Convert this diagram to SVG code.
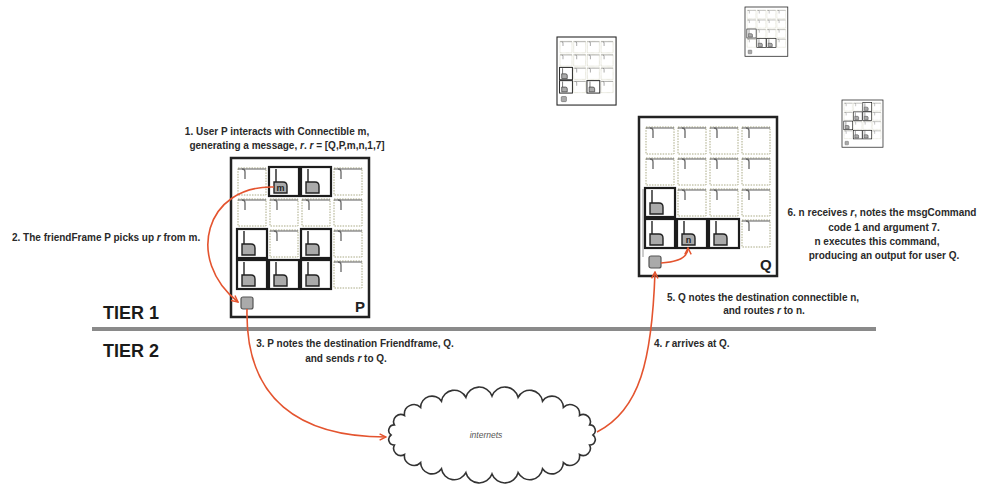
<svg xmlns="http://www.w3.org/2000/svg" width="982" height="489" viewBox="0 0 982 489">
<style>
.t{font-family:"Liberation Sans",Arial,sans-serif;font-weight:bold;font-size:10px;fill:#2a2a2a}
.tier{font-family:"Liberation Sans",Arial,sans-serif;font-weight:bold;font-size:18px;fill:#1a1a1a}
.lbl{font-family:"Liberation Sans",Arial,sans-serif;font-weight:bold;font-size:15px;fill:#222}
.i{font-style:italic}
.con{fill:none;stroke:#e4542f;stroke-width:1.6}
</style>
<defs>
<marker id="ah" viewBox="0 0 10 10" refX="9" refY="5" markerWidth="8" markerHeight="8" orient="auto" markerUnits="userSpaceOnUse">
<path d="M1 1 L9 5 L1 9" fill="none" stroke="#e4542f" stroke-width="1.8"/>
</marker>
<g id="cellOff">
<rect width="28" height="27" fill="#fff" stroke="#a9a984" stroke-width="1" stroke-dasharray="1.5 1.2"/>
<path d="M0 1 H28" stroke="#777" stroke-width="1.2" fill="none"/>
<path d="M4 1 Q7 1 7 4 V11" stroke="#666" stroke-width="1.3" fill="none"/>
</g>
<g id="cellOn">
<rect x="-1" y="-1" width="30" height="29" fill="#fff" stroke="#1c1c1c" stroke-width="2.2"/>
<path d="M6 1 V14" stroke="#222" stroke-width="1.4" fill="none"/>
<path d="M4 25 V14 H13 Q17 14 17 18 V25 Z" fill="#aaa" stroke="#222" stroke-width="1.4"/>
</g>
<rect id="port" width="12" height="12" rx="2" fill="#aaa" stroke="#555" stroke-width="1.2"/>
<g id="frameBase">
<rect x="0" y="0" width="138" height="159" fill="#fff" stroke="#222" stroke-width="2.5"/>
<use href="#cellOff" x="7" y="10"/><use href="#cellOff" x="39" y="10"/><use href="#cellOff" x="71" y="10"/><use href="#cellOff" x="103" y="10"/>
<use href="#cellOff" x="7" y="41"/><use href="#cellOff" x="39" y="41"/><use href="#cellOff" x="71" y="41"/><use href="#cellOff" x="103" y="41"/>
<use href="#cellOff" x="7" y="72"/><use href="#cellOff" x="39" y="72"/><use href="#cellOff" x="71" y="72"/><use href="#cellOff" x="103" y="72"/>
<use href="#cellOff" x="7" y="103"/><use href="#cellOff" x="39" y="103"/><use href="#cellOff" x="71" y="103"/><use href="#cellOff" x="103" y="103"/>
<use href="#port" x="10" y="139"/>
</g>
</defs>
<rect width="982" height="489" fill="#fff"/>

<g id="tiers">
<line x1="92" y1="329" x2="876" y2="329" stroke="#8a8a8a" stroke-width="4"/>
<text class="tier" x="103" y="319">TIER 1</text>
<text class="tier" x="103" y="357">TIER 2</text>
</g>

<g id="frame-P" transform="translate(231,158)">
<use href="#frameBase"/>
<use href="#cellOn" x="39" y="10"/><use href="#cellOn" x="71" y="10"/>
<use href="#cellOn" x="7" y="72"/><use href="#cellOn" x="71" y="72"/>
<use href="#cellOn" x="7" y="103"/><use href="#cellOn" x="39" y="103"/><use href="#cellOn" x="71" y="103"/>
<text x="49.5" y="33" font-family="Liberation Sans,Arial,sans-serif" font-size="9" font-weight="bold" fill="#222" text-anchor="middle">m</text>
<text class="lbl" x="124" y="154">P</text>
</g>

<g id="frame-Q" transform="translate(639,117)">
<use href="#frameBase"/>
<line x1="4" y1="72" x2="4" y2="140" stroke="#999" stroke-width="1"/>
<use href="#cellOn" x="7" y="72"/>
<use href="#cellOn" x="7" y="103"/><use href="#cellOn" x="39" y="103"/><use href="#cellOn" x="71" y="103"/>
<text x="49.5" y="126" font-family="Liberation Sans,Arial,sans-serif" font-size="9" font-weight="bold" fill="#222" text-anchor="middle">n</text>
<text class="lbl" x="121" y="153">Q</text>
</g>

<g id="frame-A" transform="translate(557,37) scale(0.428)">
<use href="#frameBase"/>
<use href="#cellOn" x="7" y="72"/><use href="#cellOn" x="7" y="103"/><use href="#cellOn" x="71" y="103"/>
</g>
<g id="frame-B" transform="translate(745,7) scale(0.31)">
<use href="#frameBase"/>
<use href="#cellOn" x="7" y="72"/><use href="#cellOn" x="39" y="103"/><use href="#cellOn" x="71" y="103"/>
</g>
<g id="frame-C" transform="translate(842,100) scale(0.297)">
<use href="#frameBase"/>
<use href="#cellOn" x="71" y="10"/>
<use href="#cellOn" x="39" y="41"/><use href="#cellOn" x="71" y="41"/>
<use href="#cellOn" x="7" y="72"/>
<use href="#cellOn" x="39" y="103"/><use href="#cellOn" x="71" y="103"/>
</g>

<g id="cloud">
<path d="M593 435 A5.6 5.6 0 0 1 589.6 445.1 A7.2 7.2 0 0 1 579.5 454.5 A9.5 9.5 0 0 1 563.4 462.6 A11.4 11.4 0 0 1 542.5 468.8 A13 13 0 0 1 518.1 472.7 A13.7 13.7 0 0 1 492 474 A13.7 13.7 0 0 1 465.9 472.7 A13 13 0 0 1 441.5 468.8 A11.4 11.4 0 0 1 420.6 462.6 A9.5 9.5 0 0 1 404.5 454.5 A7.2 7.2 0 0 1 394.4 445.1 A5.6 5.6 0 0 1 391 435 A5.6 5.6 0 0 1 394.4 424.9 A7.2 7.2 0 0 1 404.5 415.5 A9.5 9.5 0 0 1 420.6 407.4 A11.4 11.4 0 0 1 441.5 401.2 A13 13 0 0 1 465.9 397.3 A13.7 13.7 0 0 1 492 396 A13.7 13.7 0 0 1 518.1 397.3 A13 13 0 0 1 542.5 401.2 A11.4 11.4 0 0 1 563.4 407.4 A9.5 9.5 0 0 1 579.5 415.5 A7.2 7.2 0 0 1 589.6 424.9 A5.6 5.6 0 0 1 593 435 Z" fill="#fff" stroke="#333" stroke-width="1.6"/>
<text x="486" y="438" font-family="Liberation Sans,Arial,sans-serif" font-size="8.5" font-style="italic" fill="#555" text-anchor="middle">internets</text>
</g>

<g id="connectors">
<path class="con" d="M274 187 C205 185 185 260 238 302" marker-end="url(#ah)"/>
<path class="con" d="M247 309 C245 400 300 437 386 437" marker-end="url(#ah)"/>
<path class="con" d="M597 432 C640 410 652 360 655 272" marker-end="url(#ah)"/>
<path class="con" d="M661 263 C678 262 688 258 688 248" marker-end="url(#ah)"/>
</g>

<g id="labels">
<text class="t" x="277" y="135" text-anchor="middle">1. User P interacts with Connectible m,</text>
<text class="t" x="287" y="149" text-anchor="middle">generating a message, <tspan class="i">r</tspan>. <tspan class="i">r</tspan> = [Q,P,m,n,1,7]</text>
<text class="t" x="12" y="241">2. The friendFrame P picks up <tspan class="i">r</tspan> from m.</text>
<text class="t" x="355" y="347" text-anchor="middle">3. P notes the destination Friendframe, Q.</text>
<text class="t" x="346" y="362" text-anchor="middle">and sends <tspan class="i">r</tspan> to Q.</text>
<text class="t" x="654" y="347">4. <tspan class="i">r</tspan> arrives at Q.</text>
<text class="t" x="763" y="301" text-anchor="middle">5. Q notes the destination connectible n,</text>
<text class="t" x="764" y="314" text-anchor="middle">and routes <tspan class="i">r</tspan> to n.</text>
<text class="t" x="882" y="216" text-anchor="middle">6. n receives <tspan class="i">r</tspan>, notes the msgCommand</text>
<text class="t" x="884" y="231" text-anchor="middle">code 1 and argument 7.</text>
<text class="t" x="877" y="245" text-anchor="middle">n executes this command,</text>
<text class="t" x="884" y="259" text-anchor="middle">producing an output for user Q.</text>
</g>
</svg>
